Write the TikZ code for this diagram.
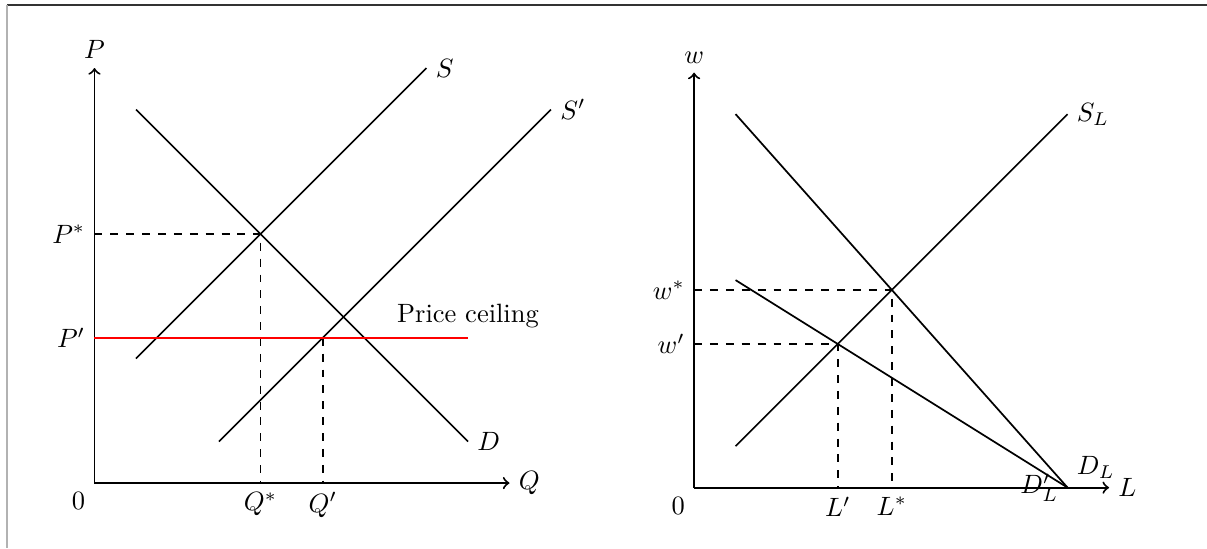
\documentclass[tikz,border=0pt]{standalone}
\usetikzlibrary{calc}
\begin{document}
\begin{tikzpicture}[x=0.551cm,y=0.551cm,
  axisline/.style={line width=0.75pt,->},
  curve/.style={line width=0.65pt,black},
  guide/.style={line width=0.65pt,dashed},
  ceiling/.style={line width=0.65pt,red},
  frameline/.style={line width=0.75pt}]
\useasboundingbox (-2.277,-1.566) rectangle (26.807,11.639);
% frame edges (top and left only)
\coordinate (FTL) at (-2.113,11.518);
\coordinate (FTR) at (26.807,11.518);
\coordinate (FBL) at (-2.113,-1.566);
\draw[frameline,gray!40!black] (FTL) -- (FTR);
\draw[frameline,gray!60] (FTL) -- (FBL);

% ---------------- left panel ----------------
\coordinate (O1) at (0,0);
\coordinate (Ptop) at (0,10);
\coordinate (Qend) at (10,0);
\draw[axisline] (O1) -- (Ptop);
\draw[axisline] (O1) -- (Qend);
\node[above] (Plab) at (Ptop) {$P$};
\node[right] (Qlab) at (Qend) {$Q$};
\node[below left] (zeroA) at (O1) {$0$};

\coordinate (Sa) at (1,3);   \coordinate (Sb) at (8,10);
\coordinate (S2a) at (3,1);  \coordinate (S2b) at (11,9);
\coordinate (Da) at (1,9);   \coordinate (Db) at (9,1);
\draw[curve] (Sa) -- (Sb);
\draw[curve] (S2a) -- (S2b);
\draw[curve] (Da) -- (Db);
\node[right] (Slab) at (Sb) {$S$};
\node[right] (S2lab) at (S2b) {$S'$};
\node[right] (Dlab) at (Db) {$D$};

\coordinate (Estar) at (4,6);
\coordinate (Pstar) at (0,6);
\coordinate (Qstar) at (4,0);
\draw[guide] (Pstar) -- (Estar) -- (Qstar);
\node[left] (PstarLab) at (Pstar) {$P^*$};
\node[below] (QstarLab) at (Qstar) {$Q^*$};

\coordinate (Pp) at (0,3.5);
\coordinate (Cend) at (9,3.5);
\coordinate (Ep) at (5.5,3.5);
\coordinate (Qp) at (5.5,0);
\draw[guide] (Ep) -- (Qp);
\draw[ceiling] (Pp) -- (Cend);
\node[above] (Clab) at (Cend) {Price ceiling};
\node[left] (PpLab) at (Pp) {$P'$};
\node[below] (QpLab) at (Qp) {$Q'$};

% ---------------- right panel ----------------
\begin{scope}[shift={(14.448,-0.111)}]
\coordinate (O2) at (0,0);
\coordinate (wtop) at (0,10);
\coordinate (Lend) at (10,0);
\draw[axisline] (O2) -- (wtop);
\draw[axisline] (O2) -- (Lend);
\node[above] (wlab) at (wtop) {$w$};
\node[right] (Llab) at (Lend) {$L$};
\node[below left] (zeroB) at (O2) {$0$};

\coordinate (SLa) at (1,1);  \coordinate (SLb) at (9,9);
\coordinate (DLa) at (1,9);  \coordinate (DLb) at (9,0);
\coordinate (DLpa) at (1,5);
\draw[curve] (SLa) -- (SLb);
\draw[curve] (DLa) -- (DLb);
\draw[curve] (DLpa) -- (DLb);
\node[right] (SLlab) at (SLb) {$S_L$};
\node[above right] (DLlab) at (DLb) {$D_L$};
\node[left] (DLplab) at (DLb) {$D'_L$};

\coordinate (Ews) at (4.7647,4.7647);
\coordinate (ws) at (0,4.7647);
\coordinate (Ls) at (4.7647,0);
\draw[guide] (ws) -- (Ews) -- (Ls);
\node[left] (wsLab) at (ws) {$w^*$};
\node[below] (LsLab) at (Ls) {$L^*$};

\coordinate (Ewp) at (3.4615,3.4615);
\coordinate (wp) at (0,3.4615);
\coordinate (Lp) at (3.4615,0);
\draw[guide] (wp) -- (Ewp) -- (Lp);
\node[left] (wpLab) at (wp) {$w'$};
\node[below] (LpLab) at (Lp) {$L'$};
\end{scope}
\end{tikzpicture}
\end{document}
